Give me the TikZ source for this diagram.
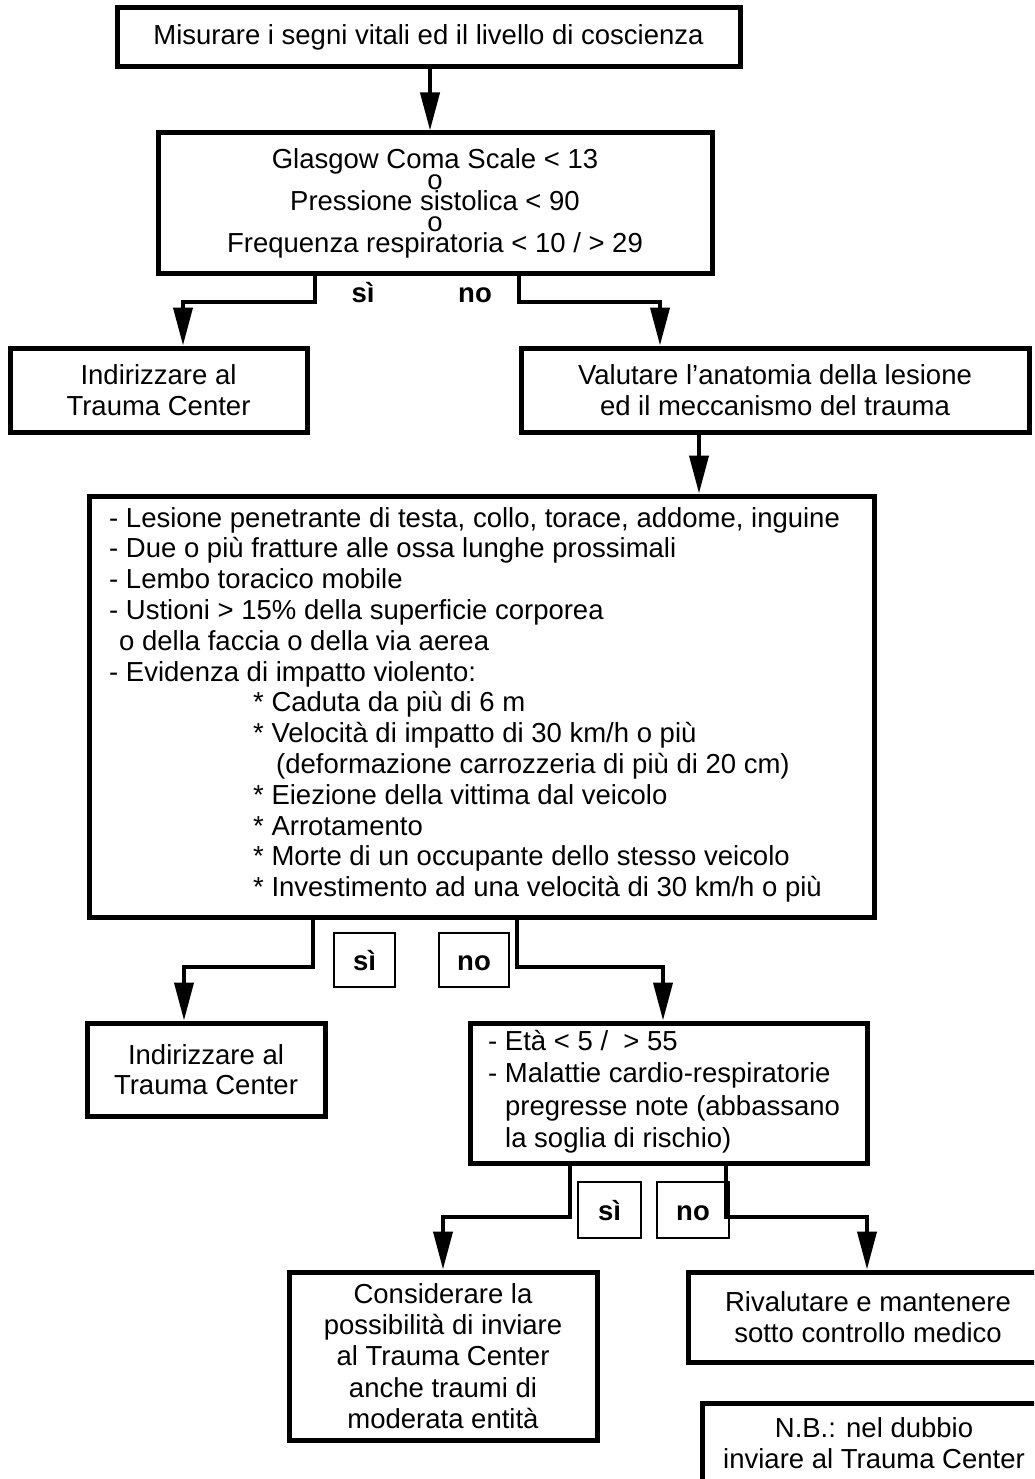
\documentclass[tikz,border=0pt]{standalone}
\usepackage{fontspec}
\setmainfont{Liberation Sans}
\usetikzlibrary{arrows.meta}
\newcommand\fsz{\fontsize{27.5pt}{30.5pt}\selectfont}
\tikzset{
  box/.style={draw, line width=5pt, inner sep=0pt, align=center, font=\fsz},
  arr/.style={line width=4pt, -{Triangle[length=38pt,width=19pt]}},
  lbl/.style={draw, line width=1.2pt, inner sep=0pt, font=\fsz\bfseries, text height=20pt, text depth=0pt},
  txt/.style={inner sep=0pt, font=\fsz, anchor=base west},
  ctxt/.style={inner sep=0pt, align=center, font=\fsz}
}
\begin{document}
\begin{tikzpicture}[x=1pt,y=-1pt]
\useasboundingbox[fill=white] (0,0) rectangle (1034,1479);
\clip (0,0) rectangle (1034,1479);

% boxes
\node[box, minimum width=623pt, minimum height=59pt] (b1) at (428.5,37.5) {Misurare i segni vitali ed il livello di coscienza};
\node[box, minimum width=554pt, minimum height=140pt, font=\fontsize{27.5pt}{21pt}\selectfont] (b2) at (435,203)
  {Glasgow Coma Scale < 13\\o\\Pressione sistolica < 90\\o\\Frequenza respiratoria < 10 / > 29};
\node[box, minimum width=297pt, minimum height=84pt] (b3) at (158.5,390) {Indirizzare al\\Trauma Center};
\node[box, minimum width=508pt, minimum height=84pt] (b4) at (775,390) {Valutare l’anatomia della lesione\\ed il meccanismo del trauma};
\node[box, minimum width=785pt, minimum height=421pt] (b5) at (481.5,706.5) {};
\node[box, minimum width=238pt, minimum height=93pt] (b6) at (206,1069.5) {Indirizzare al\\Trauma Center};
\node[box, minimum width=397pt, minimum height=140pt] (b7) at (668.5,1093) {};
\node[box, minimum width=308pt, minimum height=168pt, font=\fontsize{27.5pt}{31.2pt}\selectfont] (b8) at (443,1356)
  {Considerare la\\possibilità di inviare\\al Trauma Center\\anche traumi di\\moderata entità};
\node[box, minimum width=360pt, minimum height=90pt] (b9) at (868,1317) {Rivalutare e mantenere\\sotto controllo medico};
\node[box, minimum width=344pt, minimum height=117pt] (b10) at (874,1461.5) {};
\node[ctxt] (t10) at (874,1443) {N.B.: nel dubbio\\inviare al Trauma Center};

% text of the large box
\node[txt] (l1) at (109,527) {- Lesione penetrante di testa, collo, torace, addome, inguine};
\node[txt] (l2) at (109,557.8) {- Due o più fratture alle ossa lunghe prossimali};
\node[txt] (l3) at (109,588.6) {- Lembo toracico mobile};
\node[txt] (l4) at (109,619.4) {- Ustioni > 15\% della superficie corporea};
\node[txt] (l5) at (119,650.2) {o della faccia o della via aerea};
\node[txt] (l6) at (109,681) {- Evidenza di impatto violento:};
\node[txt] (l7) at (253,711.8) {* Caduta da più di 6 m};
\node[txt] (l8) at (253,742.6) {* Velocità di impatto di 30 km/h o più};
\node[txt] (l9) at (276,773.4) {(deformazione carrozzeria di più di 20 cm)};
\node[txt] (l10) at (253,804.2) {* Eiezione della vittima dal veicolo};
\node[txt] (l11) at (253,835) {* Arrotamento};
\node[txt] (l12) at (253,865.8) {* Morte di un occupante dello stesso veicolo};
\node[txt] (l13) at (253,896.6) {* Investimento ad una velocità di 30 km/h o più};

% text of the age box
\node[txt] (m1) at (488,1050) {- Età < 5 /\ \ > 55};
\node[txt] (m2) at (488,1082.5) {- Malattie cardio-respiratorie};
\node[txt] (m3) at (505,1115) {pregresse note (abbassano};
\node[txt] (m4) at (505,1147.5) {la soglia di rischio)};

% labels
\node[inner sep=0pt, font=\fsz\bfseries, anchor=base] (si1) at (363,302) {sì};
\node[inner sep=0pt, font=\fsz\bfseries, anchor=base] (no1) at (475,302) {no};
\node[lbl, minimum width=61pt, minimum height=54pt] (si2) at (364.5,960) {sì};
\node[lbl, minimum width=70pt, minimum height=54pt] (no2) at (474,960) {no};
\node[lbl, minimum width=63pt, minimum height=56pt] (si3) at (609.5,1210) {sì};
\node[lbl, minimum width=72pt, minimum height=56pt] (no3) at (693,1210) {no};

% connectors
\coordinate (c1) at (430,0);
\coordinate (c2) at (699,0);
\coordinate (k1) at (315,302);  \coordinate (k2) at (183,302);
\coordinate (k3) at (519,302);  \coordinate (k4) at (660,302);
\coordinate (k5) at (313,967);  \coordinate (k6) at (184,967);
\coordinate (k7) at (517,967);  \coordinate (k8) at (663,967);
\coordinate (k9) at (570,1217); \coordinate (k10) at (443,1217);
\coordinate (k11) at (726,1217); \coordinate (k12) at (867,1217);

\draw[arr] (b1.south -| c1) -- (b2.north -| c1);
\draw[arr] (b2.south -| k1) -- (k1) -- (k2) -- (b3.north -| k2);
\draw[arr] (b2.south -| k3) -- (k3) -- (k4) -- (b4.north -| k4);
\draw[arr] (b4.south -| c2) -- (b5.north -| c2);
\draw[arr] (b5.south -| k5) -- (k5) -- (k6) -- (b6.north -| k6);
\draw[arr] (b5.south -| k7) -- (k7) -- (k8) -- (b7.north -| k8);
\draw[arr] (b7.south -| k9) -- (k9) -- (k10) -- (b8.north -| k10);
\draw[arr] (b7.south -| k11) -- (k11) -- (k12) -- (b9.north -| k12);
\end{tikzpicture}
\end{document}
